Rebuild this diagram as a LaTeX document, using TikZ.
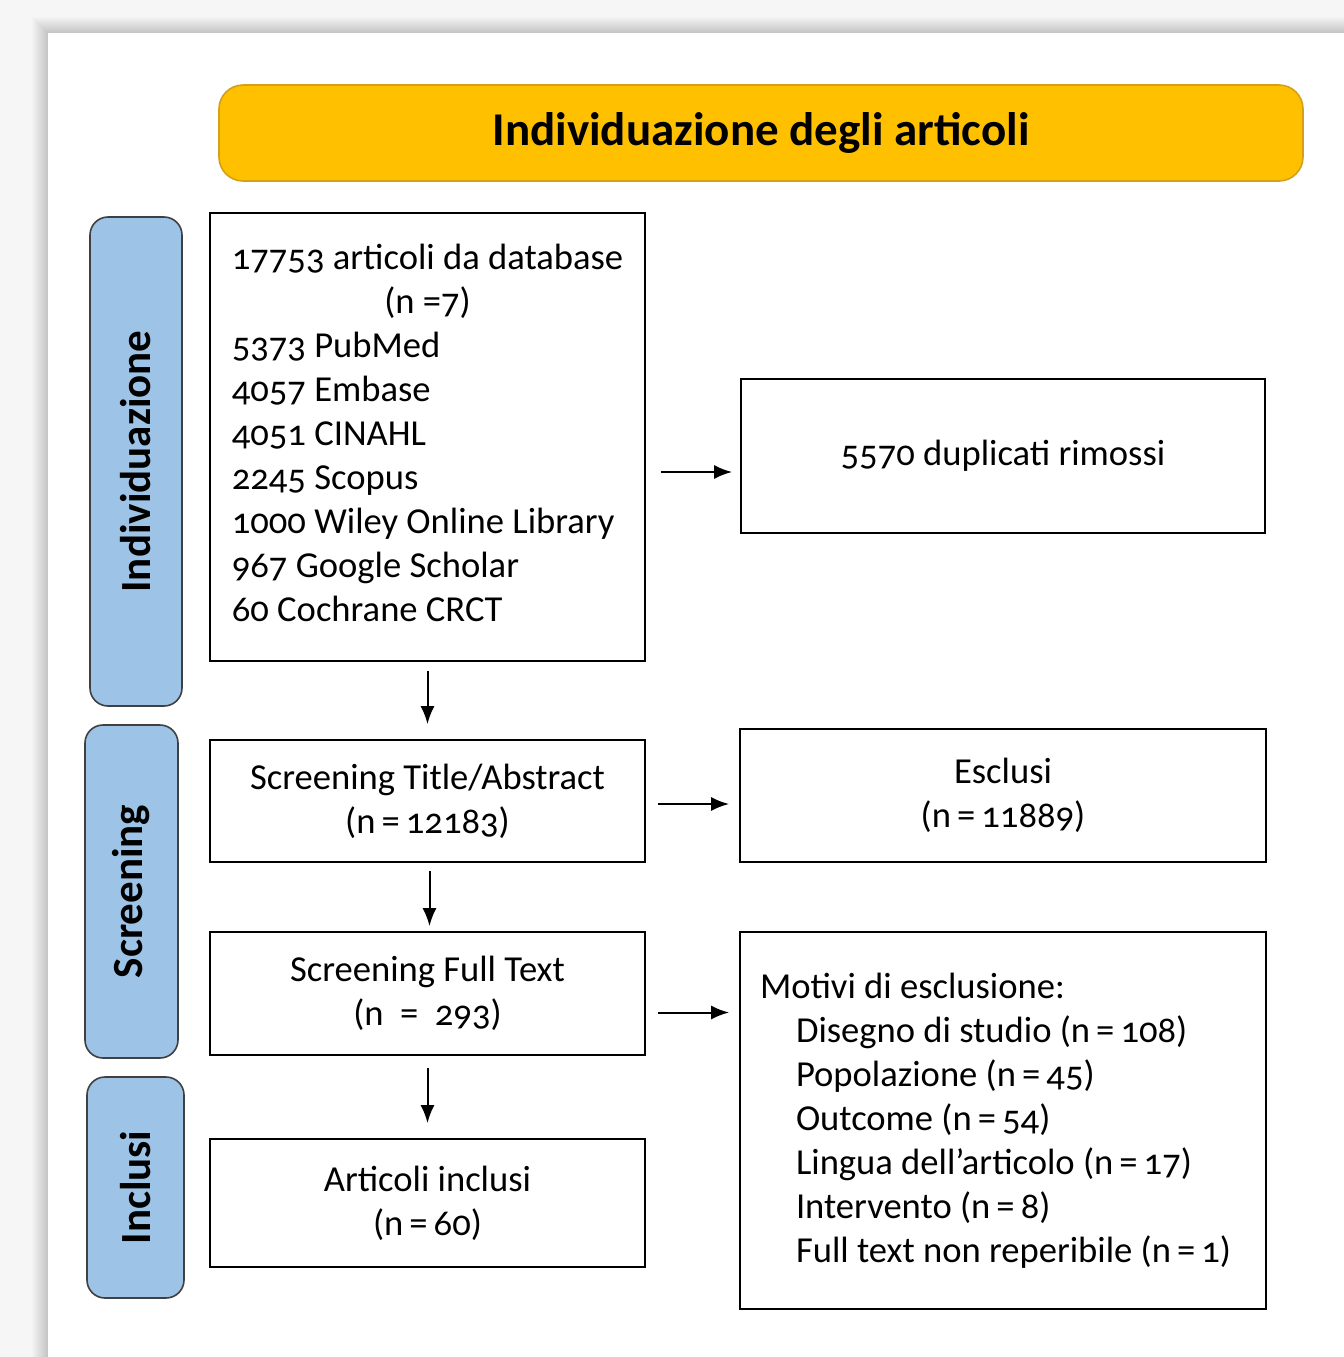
\documentclass[tikz,border=0pt]{standalone}
\usepackage{fontspec}
\setmainfont{Carlito}[Numbers=OldStyle]
\usetikzlibrary{positioning}
\usetikzlibrary{calc}
\usetikzlibrary{arrows.meta}

\definecolor{titleyel}{HTML}{FFC000}
\definecolor{titleedge}{HTML}{D4A017}
\definecolor{sideblue}{HTML}{9DC3E6}
\definecolor{sideedge}{HTML}{404040}

\begin{document}
\begin{tikzpicture}[
        x=0.5pt, y=-0.5pt,
        >={Latex[length=9pt,width=7pt]},
        box/.style={draw, line width=0.9pt, align=center,
                    minimum width=217.5pt, inner sep=0pt,
                    font=\fontsize{18.3}{22}\selectfont},
        boxR/.style={draw, line width=0.9pt, align=center,
                    minimum width=263pt, inner sep=0pt,
                    font=\fontsize{18.3}{22}\selectfont},
        side/.style={draw=sideedge, line width=0.8pt, fill=sideblue,
                    rounded corners=9pt, minimum width=46pt},
        sidetxt/.style={rotate=90, font=\fontsize{21.5}{24}\selectfont\bfseries},
        arr/.style={->, line width=1pt}
    ]

    % ------- page and its shadow -------
    \fill[gray!7] (0,0) rectangle (1344,1357);
    \foreach \k in {16,...,1}
        \fill[black, opacity=0.012] ({48-\k},{33-\k}) rectangle (1344,1357);
    \fill[white] (48,33) rectangle (1344,1357);
    \useasboundingbox (0,0) rectangle (1344,1357);

    % ------- title -------
    \node[draw=titleedge, line width=0.8pt, fill=titleyel, rounded corners=12pt,
          minimum width=542pt, minimum height=48pt,
          font=\fontsize{23.5}{26}\selectfont\bfseries] (title) at (761,133)
        {Individuazione degli articoli};

    % ------- phases (left column) -------
    \node[side, minimum height=244.5pt] (ind) at (136,461.5) {};
    \node[sidetxt] at (ind) {Individuazione};
    \node[side, minimum height=166.5pt, minimum width=46.5pt] (scr) at (131.5,891.5) {};
    \node[sidetxt] at (scr) {Screening};
    \node[side, minimum height=110.5pt, minimum width=48.5pt] (inc) at (135.5,1187.5) {};
    \node[sidetxt] at (inc) {Inclusi};

    % ------- main flow -------
    \node[box, minimum height=224pt] (db) at (427.5,437)
        {\begin{tabular}{@{}l@{}}
         \multicolumn{1}{@{}c@{}}{17753 articoli da database}\\
         \multicolumn{1}{@{}c@{}}{(n =7)}\\
         5373 PubMed\\
         4057 Embase\\
         4051 CINAHL\\
         2245 Scopus\\
         1000 Wiley Online Library\\
         967 Google Scholar\\
         60 Cochrane CRCT
         \end{tabular}};
    \node[box, minimum height=61pt] (sta) at (427.5,801)
        {Screening Title/Abstract\\(n\,=\,12183)};
    \node[box, minimum height=61.5pt] (sft) at (427.5,993.5)
        {Screening Full Text\\(n \ = \ 293)};
    \node[box, minimum height=64pt] (incl) at (427.5,1203)
        {Articoli inclusi\\(n\,=\,60)};

    % ------- exclusions (right column) -------
    \node[boxR, minimum width=262pt, minimum height=77pt] (dup) at (1003,456)
        {5570 duplicati rimossi};
    \node[boxR, minimum height=66.5pt] (excl) at (1003,795.5)
        {Esclusi\\(n\,=\,11889)};
    \node[boxR, minimum height=188.5pt, align=flush left, text width=243pt,
          inner xsep=10pt] (mot) at (1003,1120.5)
        {Motivi di esclusione:\\
         \hspace*{18pt}Disegno di studio (n\,=\,108)\\
         \hspace*{18pt}Popolazione (n\,=\,45)\\
         \hspace*{18pt}Outcome (n\,=\,54)\\
         \hspace*{18pt}Lingua dell’articolo (n\,=\,17)\\
         \hspace*{18pt}Intervento (n\,=\,8)\\
         \hspace*{18pt}Full text non reperibile (n\,=\,1)};

    % ------- arrows -------
    \draw[arr, shorten <=7.5pt, shorten >=4pt] ([yshift=-17.5pt]db.east) -- ([yshift=-17.5pt]db.east -| dup.west);
    \draw[arr, shorten <=6pt, shorten >=5pt] ([yshift=-1.5pt]sta.east) -- ([yshift=-1.5pt]sta.east -| excl.west);
    \draw[arr, shorten <=6pt, shorten >=5pt] ([yshift=-9.5pt]sft.east) -- ([yshift=-9.5pt]sft.east -| mot.west);

    \draw[arr, shorten <=4.5pt, shorten >=7.5pt] (db) -- (sta);
    \draw[arr, shorten <=4pt, shorten >=2.5pt] ([xshift=1pt]sta.south) -- ([xshift=1pt]sft.north);
    \draw[arr, shorten <=6pt, shorten >=7.5pt] (sft) -- (incl);

\end{tikzpicture}
\end{document}
